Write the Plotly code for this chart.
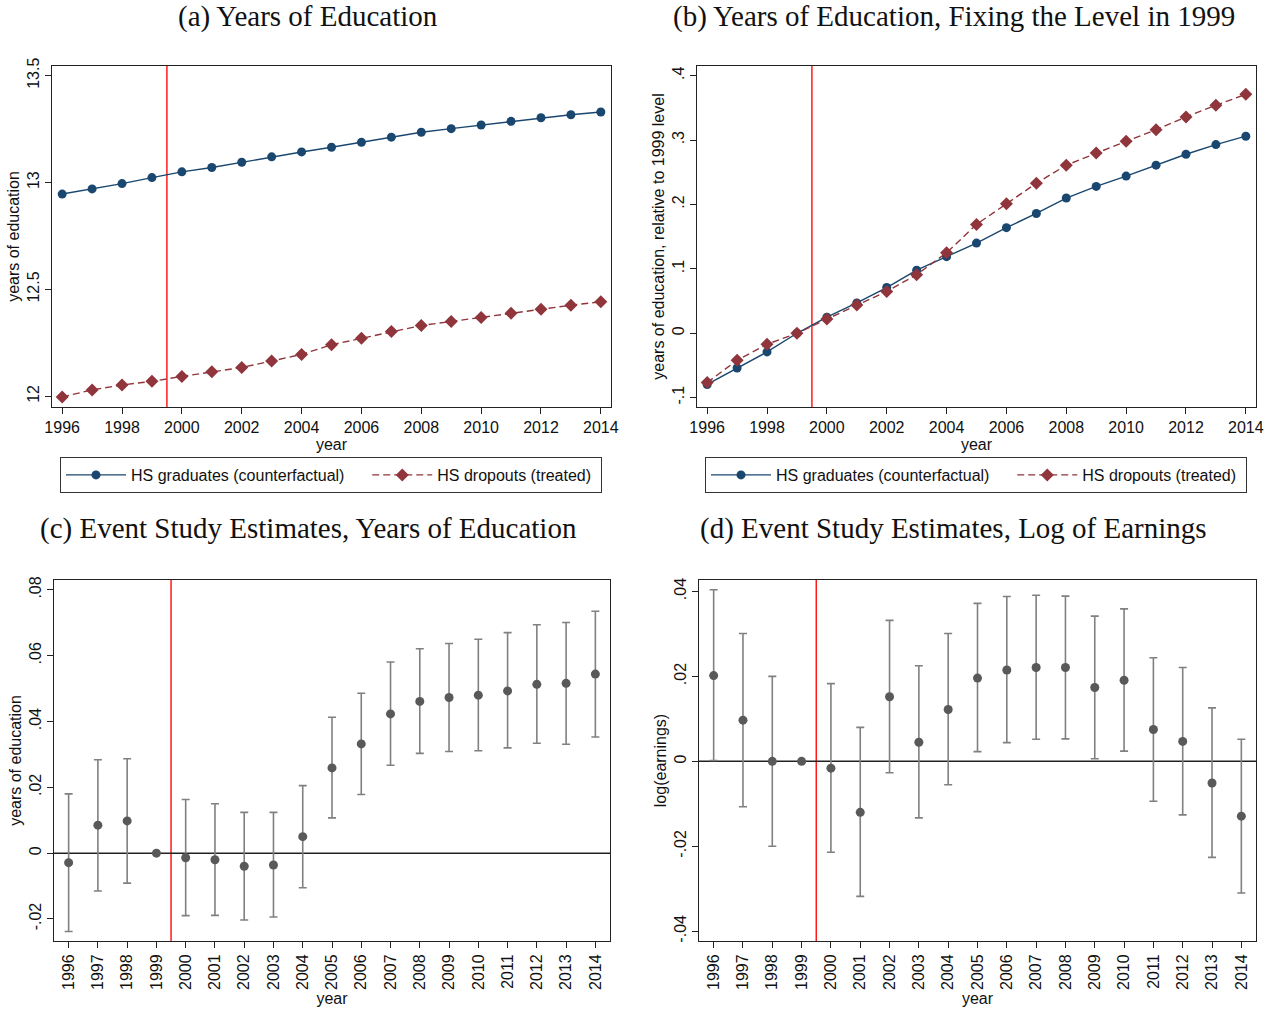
import plotly.graph_objects as go

# ---------------- data ----------------
years = list(range(1996, 2015))

# (a) levels of years of education
grad_level = [12.946, 12.970, 12.995, 13.023, 13.050, 13.070, 13.095, 13.120, 13.143, 13.165,
              13.188, 13.212, 13.235, 13.252, 13.269, 13.286, 13.303, 13.317, 13.330]
drop_level = [11.997, 12.030, 12.053, 12.070, 12.093, 12.115, 12.135, 12.165, 12.196, 12.241,
              12.271, 12.303, 12.331, 12.350, 12.369, 12.389, 12.407, 12.426, 12.442]

# (b) relative to 1999 level
grad_rel = [-0.0795, -0.054, -0.029, 0.0, 0.025, 0.047, 0.071, 0.098, 0.119, 0.140,
            0.164, 0.186, 0.210, 0.228, 0.244, 0.261, 0.278, 0.293, 0.306]
drop_rel = [-0.0765, -0.042, -0.017, 0.0, 0.022, 0.044, 0.065, 0.091, 0.125, 0.169,
            0.201, 0.233, 0.261, 0.280, 0.298, 0.316, 0.336, 0.354, 0.371]

# (c) event study, years of education
edu_est = [-0.0029, 0.0085, 0.0098, 0.0, -0.0014, -0.0020, -0.0040, -0.0036, 0.0050, 0.0259,
           0.0332, 0.0423, 0.0461, 0.0473, 0.0480, 0.0493, 0.0513, 0.0516, 0.0544]
edu_hi = [0.0180, 0.0284, 0.0287, None, 0.0163, 0.0150, 0.0124, 0.0124, 0.0205, 0.0413,
          0.0486, 0.0581, 0.0621, 0.0637, 0.0650, 0.0670, 0.0694, 0.0701, 0.0735]
edu_lo = [-0.0238, -0.0115, -0.0091, None, -0.0190, -0.0189, -0.0203, -0.0194, -0.0105, 0.0107,
          0.0178, 0.0267, 0.0303, 0.0309, 0.0311, 0.0320, 0.0334, 0.0331, 0.0353]

# (d) event study, log earnings
earn_est = [0.0202, 0.0097, 0.0, 0.0, -0.0016, -0.0120, 0.0152, 0.0045, 0.0122, 0.0196,
            0.0215, 0.0221, 0.0221, 0.0174, 0.0191, 0.0075, 0.0047, -0.0051, -0.0129]
earn_hi = [0.0404, 0.0301, 0.0200, None, 0.0183, 0.0080, 0.0332, 0.0225, 0.0301, 0.0372,
           0.0388, 0.0391, 0.0389, 0.0342, 0.0359, 0.0244, 0.0221, 0.0126, 0.0052]
earn_lo = [0.0002, -0.0107, -0.0200, None, -0.0214, -0.0318, -0.0027, -0.0133, -0.0055, 0.0023,
           0.0044, 0.0052, 0.0053, 0.0006, 0.0024, -0.0094, -0.0126, -0.0226, -0.0310]

treatment_line = 1999.5

titles = ["(a) Years of Education",
          "(b) Years of Education, Fixing the Level in 1999",
          "(c) Event Study Estimates, Years of Education",
          "(d) Event Study Estimates, Log of Earnings"]
series_names = ["HS graduates (counterfactual)", "HS dropouts (treated)"]

ticks_a = [12, 12.5, 13, 13.5]
ticklab_a = ["12", "12.5", "13", "13.5"]
ticks_b = [-0.1, 0, 0.1, 0.2, 0.3, 0.4]
ticklab_b = ["-.1", "0", ".1", ".2", ".3", ".4"]
ticks_c = [-0.02, 0, 0.02, 0.04, 0.06, 0.08]
ticklab_c = ["-.02", "0", ".02", ".04", ".06", ".08"]
ticks_d = [-0.04, -0.02, 0, 0.02, 0.04]
ticklab_d = ["-.04", "-.02", "0", ".02", ".04"]
xticks_ab = list(range(1996, 2015, 2))

# ---------------- styling ----------------
W, H = 1272, 1009
NAVY = "#1a476f"
MAROON = "#90353b"
PT = "#595959"
BAR = "#808080"
SANS = "Liberation Sans, Arial, sans-serif"
SERIF = "Liberation Serif, Times New Roman, serif"
NB = "\u00a0"  # padding inside legend entries


def px_x(a, b):
    return [a / W, b / W]


def px_y(top, bottom):
    return [1 - bottom / H, 1 - top / H]


leg_names = [series_names[0] + NB * 4, series_names[1] + NB]

fig = go.Figure()

# (a)
fig.add_trace(go.Scatter(x=years, y=grad_level, mode="lines+markers", name=leg_names[0],
                         line=dict(color=NAVY, width=1.4),
                         marker=dict(symbol="circle", size=9, color=NAVY),
                         xaxis="x", yaxis="y", legend="legend"))
fig.add_trace(go.Scatter(x=years, y=drop_level, mode="lines+markers", name=leg_names[1],
                         line=dict(color=MAROON, width=1.4, dash="7px,4px"),
                         marker=dict(symbol="diamond", size=10, color=MAROON),
                         xaxis="x", yaxis="y", legend="legend"))
# (b)
fig.add_trace(go.Scatter(x=years, y=grad_rel, mode="lines+markers", name=leg_names[0],
                         line=dict(color=NAVY, width=1.4),
                         marker=dict(symbol="circle", size=9, color=NAVY),
                         xaxis="x2", yaxis="y2", legend="legend2"))
fig.add_trace(go.Scatter(x=years, y=drop_rel, mode="lines+markers", name=leg_names[1],
                         line=dict(color=MAROON, width=1.4, dash="7px,4px"),
                         marker=dict(symbol="diamond", size=10, color=MAROON),
                         xaxis="x2", yaxis="y2", legend="legend2"))


def err(est, hi, lo):
    up = [None if h is None else h - e for e, h in zip(est, hi)]
    dn = [None if l is None else e - l for e, l in zip(est, lo)]
    return up, dn


up_c, dn_c = err(edu_est, edu_hi, edu_lo)
fig.add_trace(go.Scatter(x=years, y=edu_est, mode="markers", showlegend=False,
                         marker=dict(symbol="circle", size=9, color=PT),
                         error_y=dict(type="data", symmetric=False, array=up_c, arrayminus=dn_c,
                                      color=BAR, thickness=1.6, width=4),
                         xaxis="x3", yaxis="y3"))
up_d, dn_d = err(earn_est, earn_hi, earn_lo)
fig.add_trace(go.Scatter(x=years, y=earn_est, mode="markers", showlegend=False,
                         marker=dict(symbol="circle", size=9, color=PT),
                         error_y=dict(type="data", symmetric=False, array=up_d, arrayminus=dn_d,
                                      color=BAR, thickness=1.6, width=4),
                         xaxis="x4", yaxis="y4"))

# ---------------- axes ----------------
common = dict(showgrid=False, zeroline=False, showline=True, linecolor="#222", linewidth=1,
              mirror=True, ticks="outside", ticklen=6, tickwidth=1, tickcolor="#222",
              tickfont=dict(family=SANS, size=16, color="#111"), automargin=False)
title_font = dict(family=SANS, size=16, color="#111")

dom_a_x = px_x(52, 611)
dom_b_x = px_x(697, 1256)
dom_c_x = px_x(54, 610)
dom_d_x = px_x(699, 1256)
dom_top = px_y(66, 407)
dom_bot = px_y(580, 941)

fig.update_layout(
    xaxis=dict(common, domain=dom_a_x, anchor="y", range=[1995.66, 2014.34], tickvals=xticks_ab,
               title=dict(text="year", font=title_font, standoff=0)),
    yaxis=dict(common, domain=dom_top, anchor="x", range=[11.95, 13.545], tickvals=ticks_a,
               ticktext=ticklab_a, tickangle=-90,
               title=dict(text="years of education", font=title_font, standoff=0)),
    xaxis2=dict(common, domain=dom_b_x, anchor="y2", range=[1995.66, 2014.34], tickvals=xticks_ab,
                title=dict(text="year", font=title_font, standoff=0)),
    yaxis2=dict(common, domain=dom_top, anchor="x2", range=[-0.1145, 0.415], tickvals=ticks_b,
                ticktext=ticklab_b, tickangle=-90,
                title=dict(text="years of education, relative to 1999 level", font=title_font, standoff=0)),
    xaxis3=dict(common, domain=dom_c_x, anchor="y3", range=[1995.5, 2014.5], tickvals=years,
                tickangle=-90, title=dict(text="year", font=title_font, standoff=2)),
    yaxis3=dict(common, domain=dom_bot, anchor="x3", range=[-0.0267, 0.083], tickvals=ticks_c,
                ticktext=ticklab_c, tickangle=-90,
                title=dict(text="years of education", font=title_font, standoff=0)),
    xaxis4=dict(common, domain=dom_d_x, anchor="y4", range=[1995.5, 2014.5], tickvals=years,
                tickangle=-90, title=dict(text="year", font=title_font, standoff=2)),
    yaxis4=dict(common, domain=dom_bot, anchor="x4", range=[-0.0423, 0.0427], tickvals=ticks_d,
                ticktext=ticklab_d, tickangle=-90,
                title=dict(text="log(earnings)", font=title_font, standoff=0)),
)

# reference lines
for xr in ["x", "x2", "x3", "x4"]:
    yr = xr.replace("x", "y")
    fig.add_shape(type="line", xref=xr, yref=f"{yr} domain", x0=treatment_line, x1=treatment_line,
                  y0=0, y1=1, line=dict(color="#ff1a1a", width=1.5), layer="below")
for xr in ["x3", "x4"]:
    yr = xr.replace("x", "y")
    fig.add_shape(type="line", xref=f"{xr} domain", yref=yr, x0=0, x1=1, y0=0, y1=0,
                  line=dict(color="#222", width=1.5), layer="below")

# legends
leg_common = dict(orientation="h", bgcolor="white", bordercolor="#333", borderwidth=1,
                  font=dict(family=SANS, size=16, color="#111"), itemwidth=60,
                  xanchor="center", yanchor="middle", y=1 - 475 / H)
fig.update_layout(legend=dict(leg_common, x=331 / W), legend2=dict(leg_common, x=976 / W))

# panel titles
title_pos = [(308, 16), (954, 16), (308, 528), (953, 528)]
for t, (cx, cy) in zip(titles, title_pos):
    fig.add_annotation(text=t, x=cx / W, y=1 - cy / H, xref="paper", yref="paper",
                       showarrow=False, xanchor="center", yanchor="middle",
                       font=dict(family=SERIF, size=29, color="#111"))

fig.update_layout(width=W, height=H, margin=dict(l=0, r=0, t=0, b=0, autoexpand=False),
                  paper_bgcolor="white", plot_bgcolor="white", showlegend=True)

fig.write_html("out.html", config={"displayModeBar": False},
               post_script="document.body.style.margin='0';document.body.style.overflow='hidden';")
